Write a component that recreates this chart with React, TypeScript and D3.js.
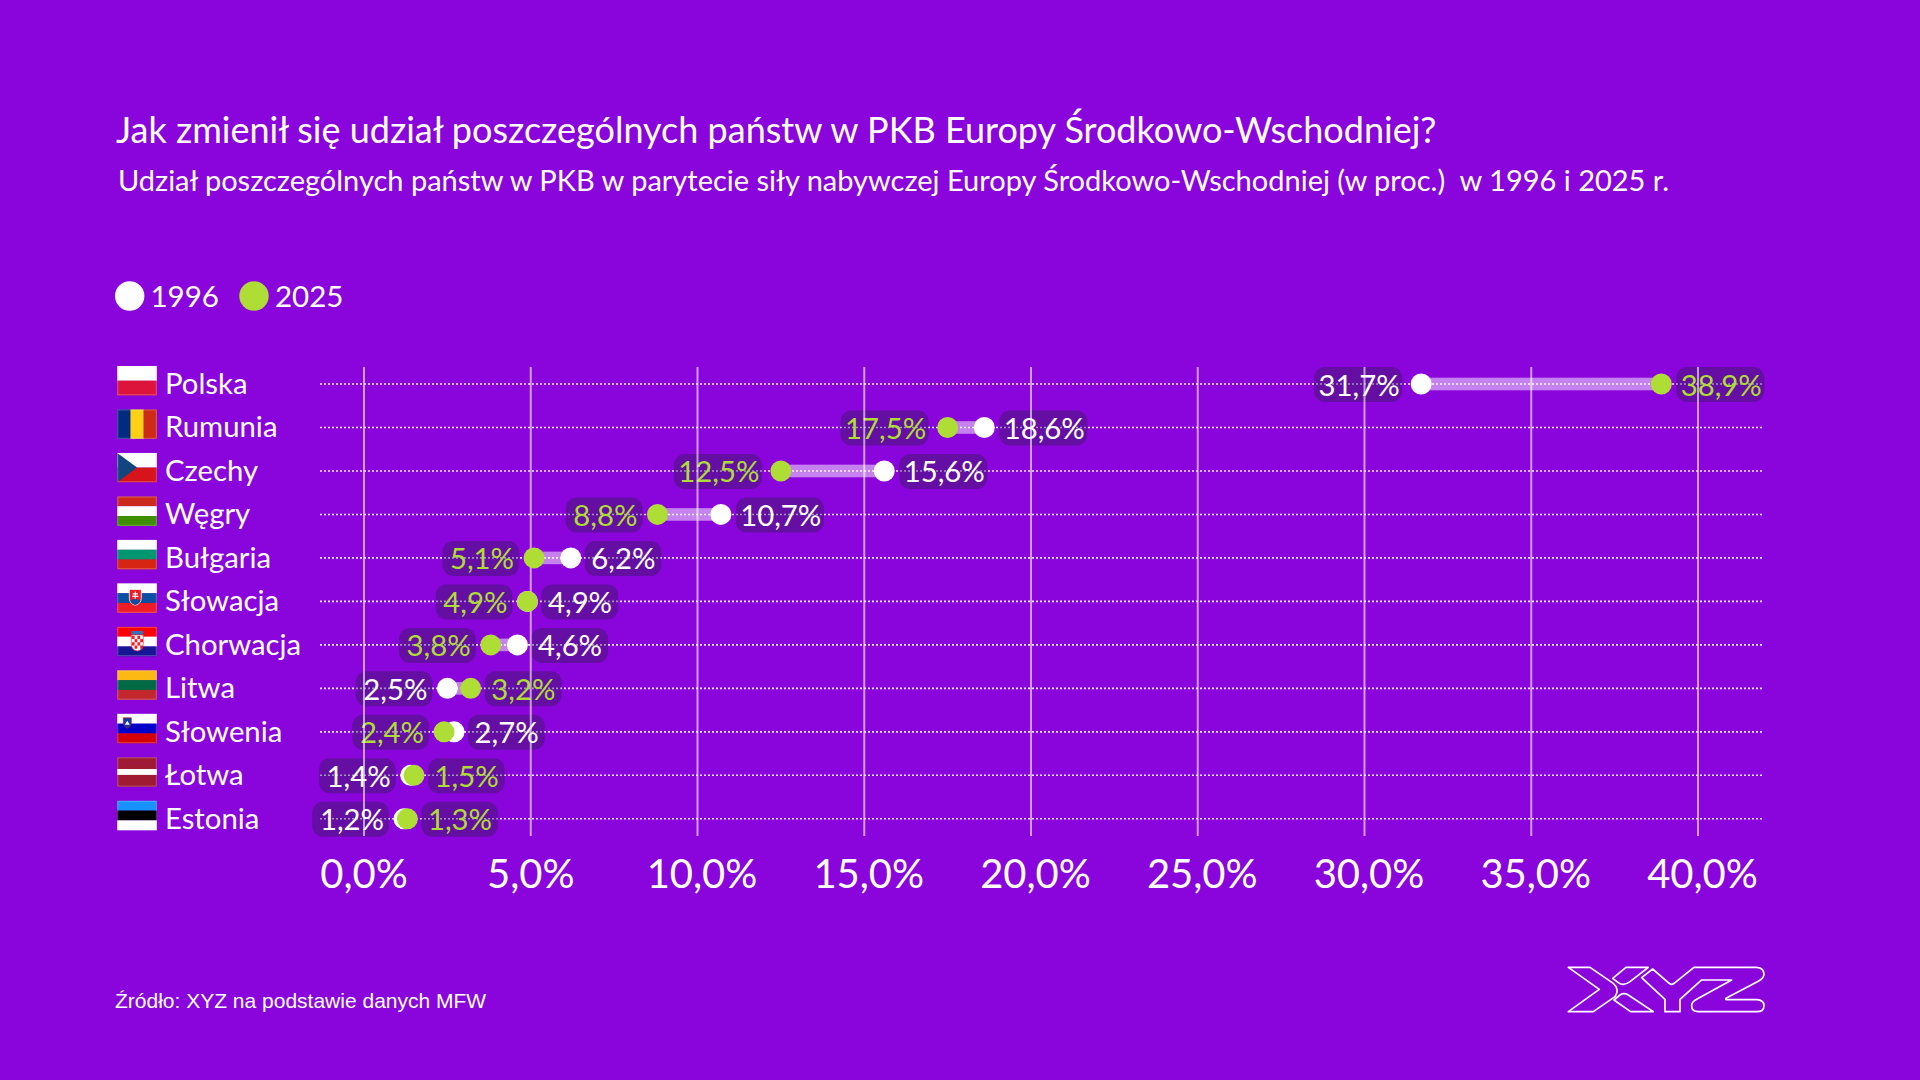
import * as React from "react";
import * as d3 from "d3";

const countries = [
  "Polska",
  "Rumunia",
  "Czechy",
  "Węgry",
  "Bułgaria",
  "Słowacja",
  "Chorwacja",
  "Litwa",
  "Słowenia",
  "Łotwa",
  "Estonia",
];
const values1996 = [31.7, 18.6, 15.6, 10.7, 6.2, 4.9, 4.6, 2.5, 2.7, 1.4, 1.2];
const values2025 = [38.9, 17.5, 12.5, 8.8, 5.1, 4.9, 3.8, 3.2, 2.4, 1.5, 1.3];
const legendYears = ["1996", "2025"];

const title = "Jak zmienił się udział poszczególnych państw w PKB Europy Środkowo-Wschodniej?";
const subtitle =
  "Udział poszczególnych państw w PKB w parytecie siły nabywczej Europy Środkowo-Wschodniej (w proc.)  w 1996 i 2025 r.";
const source = "Źródło: XYZ na podstawie danych MFW";

const BG = "#8a05dc";
const LIME = "#aedd35";
const WHITE = "#ffffff";
const FONT = "Lato, sans-serif";
const VALUE_SIZE = 29.3;

const FLAG_STRIPES: Record<string, string[]> = {
  Polska: ["#ffffff", "#dc143c"],
  Węgry: ["#cd2a1e", "#ffffff", "#3d8e00"],
  Bułgaria: ["#ffffff", "#00966e", "#d62612"],
  Słowacja: ["#ffffff", "#0b4ea2", "#ee1c25"],
  Chorwacja: ["#ff0000", "#ffffff", "#171796"],
  Litwa: ["#fdb913", "#006a44", "#c1272d"],
  Słowenia: ["#ffffff", "#0000c8", "#d50000"],
  Łotwa: ["#9e1b32", "#9e1b32", "#ffffff", "#9e1b32", "#9e1b32"],
  Estonia: ["#1791ff", "#000000", "#ffffff"],
};

const formatPct = (v: number) => v.toFixed(1).replace(".", ",") + "%";

function Flag({ name, x, y, w, h }: { name: string; x: number; y: number; w: number; h: number }) {
  const border = <rect x={x + 0.5} y={y + 0.5} width={w - 1} height={h - 1} fill="none" stroke="#ffffff" strokeOpacity={0.25} />;

  if (name === "Rumunia") {
    const cols = ["#002b7f", "#fcd116", "#ce2b17"];
    return (
      <g>
        {cols.map((c, i) => (
          <rect key={c} x={x + (i * w) / 3} y={y} width={w / 3 + 0.2} height={h} fill={c} />
        ))}
        {border}
      </g>
    );
  }

  if (name === "Czechy") {
    return (
      <g>
        <rect x={x} y={y} width={w} height={h / 2} fill="#ffffff" />
        <rect x={x} y={y + h / 2} width={w} height={h / 2} fill="#d7141a" />
        <path d={`M${x},${y}L${x + w / 2},${y + h / 2}L${x},${y + h}Z`} fill="#11457e" />
        {border}
      </g>
    );
  }

  const stripes = FLAG_STRIPES[name];
  const sh = h / stripes.length;
  return (
    <g>
      {stripes.map((c, i) => (
        <rect key={i} x={x} y={y + i * sh} width={w} height={sh + 0.2} fill={c} />
      ))}
      {name === "Słowacja" && (
        <g transform={`translate(${x + 12},${y + 6})`}>
          <path d="M0,0H12V9Q12,14 6,16Q0,14 0,9Z" fill="#ee1c25" stroke="#fff" strokeWidth={0.8} />
          <path d="M6,2V10M3.5,4.5H8.5M3,7H9" stroke="#fff" strokeWidth={1.2} />
          <path d="M1,11Q6,8 11,11Q10,14 6,15.5Q2,14 1,11Z" fill="#0b4ea2" />
        </g>
      )}
      {name === "Chorwacja" && (
        <g transform={`translate(${x + 14},${y + 4})`}>
          <rect x={0} y={0} width={12} height={4} fill="#3d6fb5" />
          <path d="M0,4H12V13Q12,19 6,20Q0,19 0,13Z" fill="#fff" stroke="#ee1c25" strokeWidth={0.6} />
          {d3.range(4).map((r) =>
            d3.range(4).map((c) =>
              (r + c) % 2 === 0 ? (
                <rect key={`${r}-${c}`} x={0.5 + c * 2.8} y={5 + r * 3.2} width={2.8} height={3.2} fill="#ee1c25" />
              ) : null
            )
          )}
        </g>
      )}
      {name === "Słowenia" && (
        <g transform={`translate(${x + 6},${y + 4})`}>
          <path d="M0,0H8V6Q8,9 4,10.5Q0,9 0,6Z" fill="#0b3fa8" stroke="#d50000" strokeWidth={0.6} />
          <path d="M1.5,7L4,3L6.5,7Z" fill="#fff" />
        </g>
      )}
      {border}
    </g>
  );
}

function ValuePill({
  value,
  anchorX,
  side,
  y,
  color,
}: {
  value: number;
  anchorX: number;
  side: "left" | "right";
  y: number;
  color: string;
}) {
  const label = formatPct(value);
  // pills in the original have one fixed width per label length
  const long = label.length > 4;
  const w = long ? 88 : 76.7;
  const h = 35;
  const left = side === "left" ? anchorX - (long ? 19 : 15) - w : anchorX + (long ? 15 : 14);
  const textEnd = left + w - (long ? 2.5 : side === "left" ? 5 : 6);
  return (
    <g>
      <rect x={left} y={y - h / 2 + 0.5} width={w} height={h} rx={11} fill="#2d1b4e" fillOpacity={0.4} />
      <text x={textEnd} y={y + 11.5} textAnchor="end" fontSize={VALUE_SIZE} fill={color}>
        {label}
      </text>
    </g>
  );
}

export default function App() {
  const x = d3.scaleLinear().domain([0, 40]).range([364, 1698]);
  const y = d3.scalePoint<string>().domain(countries).range([384, 818.8]);
  const ticks = x.ticks(8);

  const rows = countries.map((name, i) => ({
    name,
    v96: values1996[i],
    v25: values2025[i],
    cy: y(name) as number,
  }));

  return (
    <svg
      width={1920}
      height={1080}
      viewBox="0 0 1920 1080"
      style={{ position: "absolute", left: 0, top: 0, background: BG, fontFamily: FONT }}
    >
      <rect width={1920} height={1080} fill={BG} />

      <text x={116} y={142.5} fontSize={36} fill={WHITE}>
        {title}
      </text>
      <text x={118} y={190.5} fontSize={29} fill={WHITE} style={{ whiteSpace: "pre" }}>
        {subtitle}
      </text>

      {legendYears.map((year, i) => (
        <g key={year}>
          <circle cx={i === 0 ? 129.7 : 254} cy={296} r={14.7} fill={i === 0 ? WHITE : LIME} />
          <text x={i === 0 ? 150.5 : 275} y={306.5} fontSize={29.5} fill={WHITE}>
            {year}
          </text>
        </g>
      ))}

      {rows.map((r) => (
        <g key={r.name}>
          <Flag name={r.name} x={117.3} y={r.cy - 18} w={39.5} h={29.3} />
          <text x={165} y={r.cy + 10} fontSize={29.3} fill={WHITE}>
            {r.name}
          </text>
        </g>
      ))}

      {rows.map((r) => (
        <rect
          key={r.name}
          x={Math.min(x(r.v96), x(r.v25))}
          y={r.cy - 6.3}
          width={Math.abs(x(r.v96) - x(r.v25))}
          height={12.6}
          fill={WHITE}
          fillOpacity={0.5}
        />
      ))}

      {rows.map((r) => (
        <line
          key={r.name}
          x1={320}
          x2={1763}
          y1={r.cy}
          y2={r.cy}
          stroke={WHITE}
          strokeOpacity={0.9}
          strokeWidth={1.6}
          strokeDasharray="2 2"
        />
      ))}

      {rows.map((r) => {
        const whiteLeft = r.v96 < r.v25;
        return (
          <g key={r.name}>
            <ValuePill value={r.v96} anchorX={x(r.v96)} side={whiteLeft ? "left" : "right"} y={r.cy} color={WHITE} />
            <ValuePill value={r.v25} anchorX={x(r.v25)} side={whiteLeft ? "right" : "left"} y={r.cy} color={LIME} />
          </g>
        );
      })}

      {ticks.map((tick) => (
        <g key={tick} transform={`translate(${x(tick)},0)`}>
          <line y1={367} y2={836} stroke={WHITE} strokeOpacity={0.6} strokeWidth={2} />
          <text x={tick >= 10 ? 4.5 : 0} y={888} textAnchor="middle" fontSize={40} fill={WHITE}>
            {formatPct(tick)}
          </text>
        </g>
      ))}

      {rows.map((r) => (
        <g key={r.name}>
          <circle cx={x(r.v96)} cy={r.cy} r={10.5} fill={WHITE} />
          <circle cx={x(r.v25)} cy={r.cy} r={10.5} fill={LIME} />
        </g>
      ))}

      <text x={115} y={1007.5} fontSize={21} fill={WHITE} fontFamily="'Liberation Sans', Arial, sans-serif">
        {source}
      </text>

      <g transform="translate(1500,940) scale(0.3333)" fill="none" stroke={WHITE} strokeWidth={5} strokeLinejoin="round">
        <path d="M205,82H270L340,130Q360,148 345,170L280,215H205L298,148Z" />
        <path d="M338,115L378,82H445L390,125Q370,140 355,128Z" />
        <path d="M342,180L360,165Q372,157 385,165L460,215H392Z" />
        <path d="M425,113L458,87L505,128Q515,138 525,128L582,82H770Q792,84 792,103Q792,115 775,124L678,175Q675,179 682,179H770Q792,180 792,197Q792,215 770,215H595Q575,214 575,197Q575,186 590,178L695,120H605L540,178V215H495V178Z" />
      </g>
    </svg>
  );
}
